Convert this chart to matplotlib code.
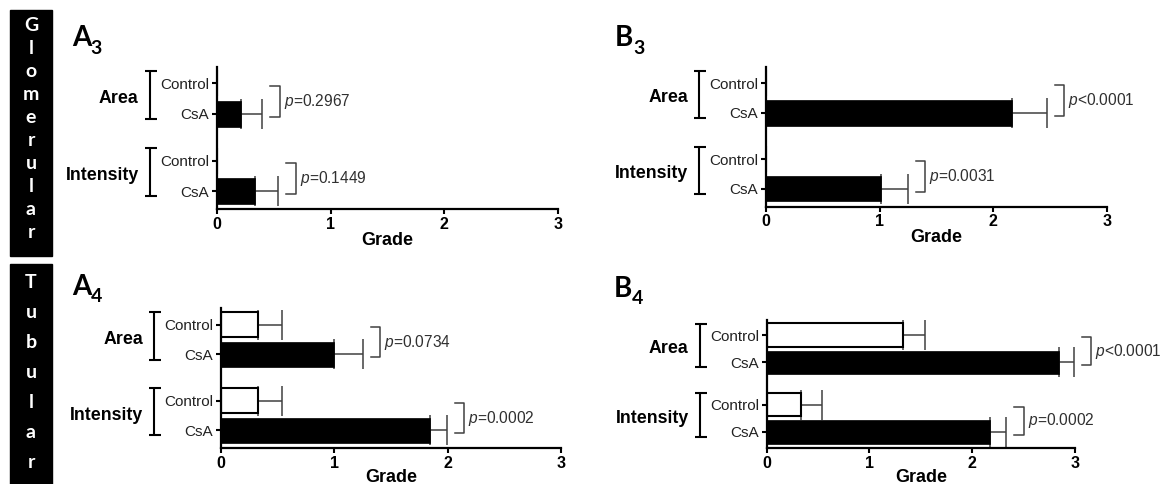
import numpy as np
import matplotlib
matplotlib.use("Agg")
import matplotlib.pyplot as plt
from matplotlib.patches import Rectangle

plt.rcParams['font.family'] = ['Liberation Sans', 'DejaVu Sans']
plt.rcParams['mathtext.fontset'] = 'custom'
plt.rcParams['mathtext.rm'] = 'Liberation Sans'
plt.rcParams['mathtext.it'] = 'Liberation Sans:italic'

# ---------------- datos ----------------
groups = ['Area', 'Intensity']
conditions = ['Control', 'CsA']
grade_ticks = [0, 1, 2, 3]

# A3 - glomerular
a3_control = [0.0, 0.0]
a3_control_err = [0.0, 0.0]
a3_csa = [0.21, 0.34]
a3_csa_err = [0.19, 0.20]
a3_p = ['=0.2967', '=0.1449']

# B3 - glomerular
b3_control = [0.0, 0.0]
b3_control_err = [0.0, 0.0]
b3_csa = [2.17, 1.01]
b3_csa_err = [0.30, 0.24]
b3_p = ['<0.0001', '=0.0031']

# A4 - tubular
a4_control = [0.33, 0.33]
a4_control_err = [0.21, 0.21]
a4_csa = [1.00, 1.84]
a4_csa_err = [0.25, 0.15]
a4_p = ['=0.0734', '=0.0002']

# B4 - tubular
b4_control = [1.33, 0.33]
b4_control_err = [0.21, 0.21]
b4_csa = [2.84, 2.17]
b4_csa_err = [0.15, 0.16]
b4_p = ['<0.0001', '=0.0002']

W, H = 1160, 484
fig = plt.figure(figsize=(W / 100, H / 100), dpi=100)

GRAY = '#404040'


def add_axes_px(left, right, top, bottom):
    return fig.add_axes([left / W, 1 - bottom / H, (right - left) / W, (bottom - top) / H])


def draw_panel(ax, control, control_err, csa, csa_err, pvals, labelpad=0):
    y_ctrl = np.array([0.0, 2.55])
    y_csa = y_ctrl + 1
    ax_w_px = ax.get_position().width * W
    ppu = ax_w_px / 3.0  # pixeles por unidad de grado

    ax.barh(y_ctrl, control, height=0.85, color='white', edgecolor='black', linewidth=1.5, zorder=2)
    ax.barh(y_csa, csa, height=0.85, color='black', edgecolor='black', linewidth=0.5, zorder=2)

    for means, errs, ys in [(control, control_err, y_ctrl), (csa, csa_err, y_csa)]:
        for m, e, y in zip(means, errs, ys):
            if e > 0:
                ax.errorbar(m, y, xerr=[[0], [e]], fmt='none', ecolor=GRAY,
                            elinewidth=1.1, capsize=10.5, capthick=1.1, zorder=1)

    # corchetes con p
    for i in range(len(groups)):
        x_end = max(control[i] + control_err[i], csa[i] + csa_err[i])
        x0 = x_end + 8 / ppu
        x1 = x0 + 9.5 / ppu
        yy0 = y_ctrl[i] + 0.08
        yy1 = y_csa[i] + 0.1
        ax.plot([x0, x1, x1, x0], [yy0, yy0, yy1, yy1], color=GRAY, lw=1.1, clip_on=False)
        ax.text(x1 + 4 / ppu, (yy0 + yy1) / 2, r'$p$' + pvals[i], ha='left', va='center',
                fontsize=11.2, color='#303030', clip_on=False)

    # corchetes de grupo a la izquierda
    tr = ax.get_yaxis_transform()
    bx = -67 / ax_w_px
    cl = -5 / ax_w_px
    cr = 7 / ax_w_px
    for i, g in enumerate(groups):
        top = y_ctrl[i] - 0.42
        bot = y_csa[i] + 0.17
        ax.plot([bx, bx], [top, bot], color='black', lw=1.5, transform=tr, clip_on=False,
                solid_capstyle='butt')
        for yy in (top, bot):
            ax.plot([bx + cl, bx + cr], [yy, yy], color='black', lw=1.5, transform=tr,
                    clip_on=False, solid_capstyle='butt')
        ax.text(bx - 11 / ax_w_px, (y_ctrl[i] + y_csa[i]) / 2, g, transform=tr,
                ha='right', va='center', fontsize=12.8, fontweight='bold')

    ax.set_xlim(0, 3)
    ax.set_ylim(4.15, -0.55)
    ax.set_xticks(grade_ticks)
    ax.set_xticklabels([str(t) for t in grade_ticks], fontweight='bold', fontsize=11.5)
    yt = [y_ctrl[0], y_csa[0], y_ctrl[1], y_csa[1]]
    ax.set_yticks(yt)
    ax.set_yticklabels(conditions * 2, fontsize=11, color='#222222')
    ax.tick_params(axis='both', direction='out', length=3.6, width=1.5, pad=2)
    for s in ['top', 'right']:
        ax.spines[s].set_visible(False)
    for s in ['left', 'bottom']:
        ax.spines[s].set_linewidth(1.6)
    ax.set_xlabel('Grade', fontweight='bold', fontsize=13, labelpad=labelpad)
    ax.set_facecolor('none')


ax_a3 = add_axes_px(216.7, 558.3, 66.7, 209.3)
ax_b3 = add_axes_px(766.0, 1106.7, 66.7, 206.7)
ax_a4 = add_axes_px(221.0, 561.0, 308.3, 448.3)
ax_b4 = add_axes_px(766.7, 1075.0, 320.0, 448.3)

draw_panel(ax_a3, a3_control, a3_control_err, a3_csa, a3_csa_err, a3_p)
draw_panel(ax_b3, b3_control, b3_control_err, b3_csa, b3_csa_err, b3_p)
draw_panel(ax_a4, a4_control, a4_control_err, a4_csa, a4_csa_err, a4_p, labelpad=-1.5)
draw_panel(ax_b4, b4_control, b4_control_err, b4_csa, b4_csa_err, b4_p, labelpad=-1.5)

# titulos de panel (letra + subindice)
for letter, sub, x, yb, dx in [('A', '3', 71.7, 46.5, 19.0),
                               ('B', '3', 615.0, 46.5, 18.0),
                               ('A', '4', 71.7, 295.0, 19.0),
                               ('B', '4', 614.0, 297.0, 18.0)]:
    fig.text(x / W, 1 - yb / H, letter, family='Lato', fontweight='bold', fontsize=20,
             ha='left', va='baseline')
    fig.text((x + dx) / W, 1 - (yb + 7) / H, sub, family='Lato', fontweight='bold',
             fontsize=14, ha='left', va='baseline')

# cajas laterales
for word, top, bot, first, last in [('Glomerular', 10, 256, 25.0, 232.0),
                                    ('Tubular', 264, 484, 282.0, 462.0)]:
    fig.add_artist(Rectangle((10 / W, 1 - bot / H), 42 / W, (bot - top) / H,
                             transform=fig.transFigure, color='black', zorder=0))
    centers = np.linspace(first, last, len(word))
    for ch, yc in zip(word, centers):
        fig.text(31 / W, 1 - (yc + 6) / H, ch, color='white', family='Lato', fontweight='bold',
                 fontsize=14, ha='center', va='baseline')

fig.savefig('out.png', dpi=100)
